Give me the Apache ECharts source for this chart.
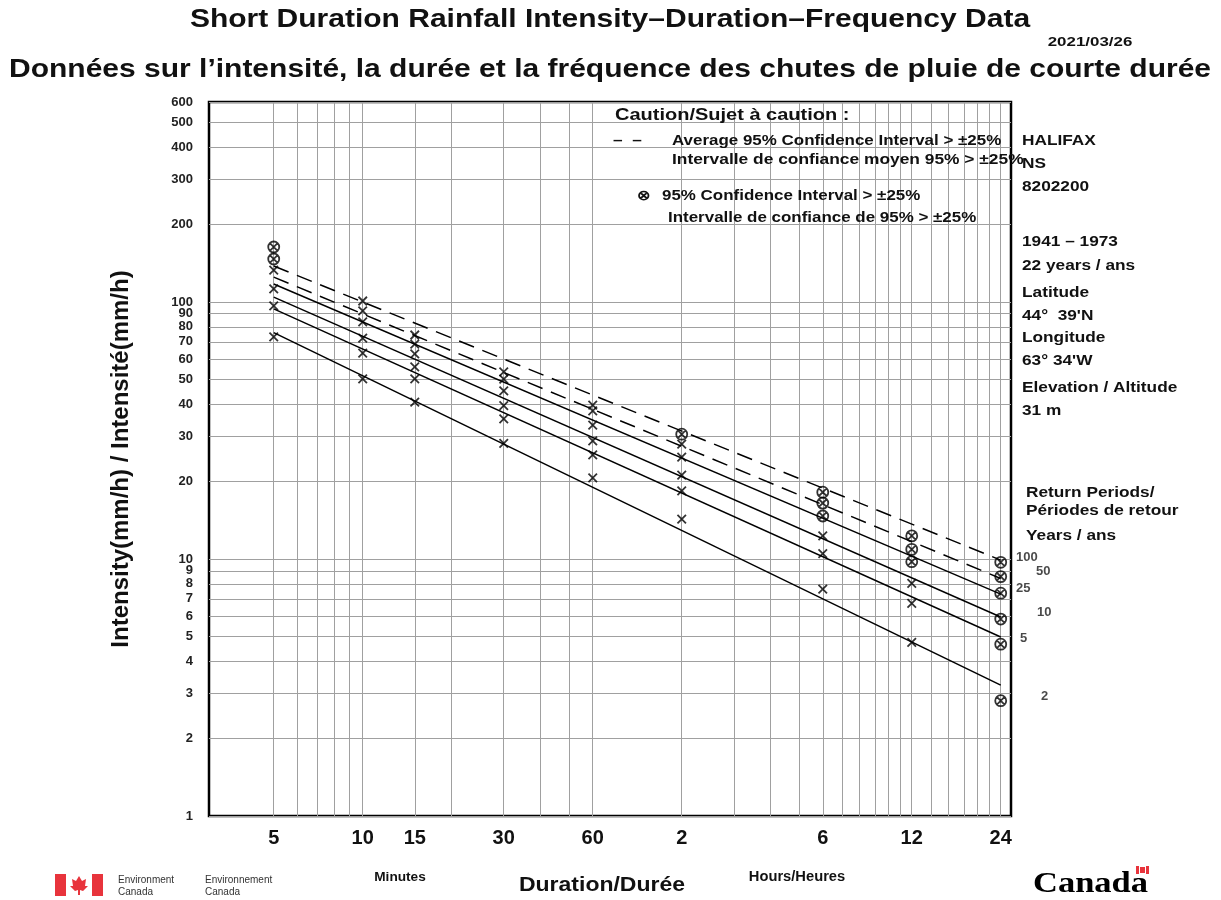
<!DOCTYPE html>
<html lang="en">
<head>
<meta charset="UTF-8">
<title>IDF Halifax</title>
<script src="https://cdn.jsdelivr.net/npm/echarts@6.0.0/dist/echarts.min.js"></script>
<style>
  html, body { margin: 0; padding: 0; background: #fff; }
  #chart { width: 1221px; height: 900px; }
</style>
</head>
<body>
<div id="chart"></div>
<script>
// durations in minutes, and how they are printed under the axis
var durations = [5, 10, 15, 30, 60, 120, 360, 720, 1440]
var durationLabels = ['5', '10', '15', '30', '60', '2', '6', '12', '24']
var returnPeriods = ['100', '50', '25', '10', '5', '2']

// observed intensities (mm/h) per return period, same order as durations
var obs100 = [163.7, 100.9, 74.4, 53.5, 39.7, 30.6, 18.2, 12.3, 9.71]
var obs50 = [147.0, 92.3, 68.6, 50.1, 37.7, 28.0, 16.5, 10.9, 8.54]
var obs25 = [133.0, 83.6, 62.8, 45.1, 33.2, 24.9, 14.7, 9.76, 7.36]
var obs10 = [112.4, 72.4, 55.9, 39.5, 28.8, 21.2, 12.3, 8.04, 5.84]
var obs5 = [96.5, 63.3, 50.2, 35.1, 25.4, 18.4, 10.5, 6.72, 4.66]
var obs2 = [73.1, 50.2, 40.8, 28.2, 20.7, 14.3, 7.64, 4.74, 2.81]

// 1 = 95% confidence interval > 25% (circled cross)
var ci100 = [1, 0, 0, 0, 0, 1, 1, 1, 1]
var ci50 = [1, 0, 0, 0, 0, 0, 1, 1, 1]
var ci25 = [0, 0, 0, 0, 0, 0, 1, 1, 1]
var ci10 = [0, 0, 0, 0, 0, 0, 0, 0, 1]
var ci5 = [0, 0, 0, 0, 0, 0, 0, 0, 1]
var ci2 = [0, 0, 0, 0, 0, 0, 0, 0, 1]

// fitted lines: intensity at 5 min and at 24 h
var fitStart = [138, 125, 117.5, 104.5, 94, 76]
var fitEnd = [9.9, 8.4, 7.3, 5.95, 4.97, 3.23]

// grid lines and y tick labels
var xGrid = [5, 6, 7, 8, 9, 10, 15, 20, 30, 40, 50, 60, 120, 180, 240, 300, 360, 420, 480, 540, 600, 660, 720, 840, 960, 1080, 1200, 1320, 1440]
var yGrid = [1, 2, 3, 4, 5, 6, 7, 8, 9, 10, 20, 30, 40, 50, 60, 70, 80, 90, 100, 200, 300, 400, 500, 600]

var obs = [obs100, obs50, obs25, obs10, obs5, obs2]
var ci = [ci100, ci50, ci25, ci10, ci5, ci2]
// label offsets of the return period names next to the 24 h points
var rpOffset = [[4, -5], [24, -5], [4, -5], [25, -7], [8, -6], [29, -4]]

var crossPath = 'path://M0,0L10,10M10,0L0,10'
var circCrossPath = 'path://M20,10A10,10,0,1,1,0,10A10,10,0,1,1,20,10ZM3,3L17,17M17,3L3,17'
var FONT = 'Liberation Sans, Arial, sans-serif'

var mCharts = echarts.init(document.getElementById('chart'))

var series = []
returnPeriods.forEach(function (rp, i) {
  series.push({
    type: 'line',
    name: 'fit' + rp,
    data: [[durations[0], fitStart[i]], [durations[durations.length - 1], fitEnd[i]]],
    symbol: 'none',
    silent: true,
    z: 3,
    lineStyle: { color: '#000', width: 1.5, type: i < 2 ? [16, 9] : 'solid' }
  })
  var pts = durations.map(function (d, j) {
    var item = {
      value: [d, obs[i][j]],
      symbol: ci[i][j] ? circCrossPath : crossPath,
      symbolSize: ci[i][j] ? 11 : 8.5
    }
    if (j === durations.length - 1) {
      item.label = {
        show: true, formatter: rp, position: 'right',
        offset: rpOffset[i], fontSize: 13, fontWeight: 'bold', fontFamily: FONT, color: '#1a1a1a'
      }
    }
    return item
  })
  series.push({
    type: 'scatter',
    name: 'obs' + rp,
    data: pts,
    z: 4,
    itemStyle: { color: 'rgba(0,0,0,0)', borderColor: '#000', borderWidth: 1.8 }
  })
})

function txt(x, y, text, size, opts) {
  opts = opts || {}
  return {
    type: 'text', x: x, y: y, scaleX: opts.sx || 1.15, silent: true, z: 10,
    style: {
      text: text, fill: opts.color || '#111',
      font: (opts.weight || 'bold') + ' ' + size + 'px ' + FONT,
      textAlign: opts.align || 'left', textVerticalAlign: 'middle'
    }
  }
}

var graphics = [
  txt(610, 20, 'Short Duration Rainfall Intensity\u2013Duration\u2013Frequency Data', 25, { align: 'center', sx: 1.2 }),
  txt(1090, 42, '2021/03/26', 13, { align: 'center', sx: 1.3 }),
  txt(610, 70, 'Donn\u00e9es sur l\u2019intensit\u00e9, la dur\u00e9e et la fr\u00e9quence des chutes de pluie de courte dur\u00e9e', 25, { align: 'center', sx: 1.2 }),

  txt(615, 116, 'Caution/Sujet \u00e0 caution :', 16, { sx: 1.25 }),
  txt(613, 141, '\u2013  \u2013', 15),
  txt(672, 141, 'Average 95% Confidence Interval > \u00b125%', 14, { sx: 1.21 }),
  txt(672, 160, 'Intervalle de confiance moyen 95% > \u00b125%', 14, { sx: 1.24 }),
  txt(637, 196, '\u2297', 14),
  txt(662, 196, '95% Confidence Interval > \u00b125%', 14, { sx: 1.21 }),
  txt(668, 218, 'Intervalle de confiance de 95% > \u00b125%', 14, { sx: 1.21 }),

  txt(1022, 141, 'HALIFAX', 15),
  txt(1022, 164, 'NS', 15),
  txt(1022, 187, '8202200', 15),
  txt(1022, 242, '1941 \u2013 1973', 15),
  txt(1022, 266, '22 years / ans', 15),
  txt(1022, 293, 'Latitude', 15),
  txt(1022, 316, '44\u00b0  39\'N', 15),
  txt(1022, 338, 'Longitude', 15),
  txt(1022, 361, '63\u00b0 34\'W', 15),
  txt(1022, 388, 'Elevation / Altitude', 15),
  txt(1022, 411, '31 m', 15),
  txt(1026, 493, 'Return Periods/', 15),
  txt(1026, 511, 'P\u00e9riodes de retour', 15),
  txt(1026, 536, 'Years / ans', 15),

  txt(400, 877, 'Minutes', 13, { align: 'center', sx: 1.05 }),
  txt(797, 877, 'Hours/Heures', 14, { align: 'center', sx: 1.05 }),
  txt(602, 885, 'Duration/Dur\u00e9e', 20, { align: 'center', sx: 1.15 }),

  // Government of Canada signature and wordmark
  { type: 'rect', shape: { x: 55, y: 874, width: 11, height: 22 }, style: { fill: '#e8343c' }, silent: true },
  { type: 'rect', shape: { x: 92, y: 874, width: 11, height: 22 }, style: { fill: '#e8343c' }, silent: true },
  { type: 'polygon', shape: { points: [[79, 876], [82, 881], [86, 879], [85, 886], [88, 886], [83, 891], [80, 890], [80, 895], [78, 895], [78, 890], [75, 891], [70, 886], [73, 886], [72, 879], [76, 881]] }, style: { fill: '#e8343c' }, silent: true },
  txt(118, 880, 'Environment', 10, { weight: 'normal', sx: 1.0, color: '#333' }),
  txt(118, 892, 'Canada', 10, { weight: 'normal', sx: 1.0, color: '#333' }),
  txt(205, 880, 'Environnement', 10, { weight: 'normal', sx: 1.0, color: '#333' }),
  txt(205, 892, 'Canada', 10, { weight: 'normal', sx: 1.0, color: '#333' }),
  {
    type: 'text', x: 1033, y: 884, scaleX: 1.15, silent: true,
    style: { text: 'Canada', fill: '#000', font: 'bold 30px "Liberation Serif", "DejaVu Serif", serif', textAlign: 'left', textVerticalAlign: 'middle' }
  },
  { type: 'rect', shape: { x: 1136, y: 866, width: 3, height: 8 }, style: { fill: '#e8343c' }, silent: true },
  { type: 'rect', shape: { x: 1146, y: 866, width: 3, height: 8 }, style: { fill: '#e8343c' }, silent: true },
  { type: 'rect', shape: { x: 1140, y: 867, width: 5, height: 6 }, style: { fill: '#e8343c' }, silent: true }
]

var option = {
  backgroundColor: '#fff',
  animation: false,
  grid: {
    left: 209, right: 210, top: 102, bottom: 84,
    show: true, borderColor: '#000', borderWidth: 2.5, backgroundColor: 'transparent'
  },
  xAxis: {
    type: 'log', logBase: 10, min: 3.02, max: 1560,
    axisLine: { show: false },
    axisTick: { show: false, customValues: xGrid },
    splitLine: { show: true, lineStyle: { color: '#a0a0a0', width: 1 } },
    axisLabel: {
      customValues: durations,
      margin: 12,
      fontSize: 20, fontWeight: 'bold', fontFamily: FONT, color: '#111',
      formatter: function (v) {
        var k = durations.indexOf(Math.round(v))
        return k >= 0 ? durationLabels[k] : ''
      }
    }
  },
  yAxis: {
    type: 'log', logBase: 10, min: 1, max: 600,
    name: 'Intensity(mm/h) / Intensit\u00e9(mm/h)',
    nameLocation: 'middle', nameRotate: 90, nameGap: 76,
    nameTextStyle: { fontSize: 24, fontWeight: 'bold', fontFamily: FONT, color: '#111' },
    axisLine: { show: false },
    axisTick: { show: false, customValues: yGrid },
    splitLine: { show: true, lineStyle: { color: '#a0a0a0', width: 1 } },
    axisLabel: {
      customValues: yGrid,
      margin: 16,
      fontSize: 13, fontWeight: 'bold', fontFamily: FONT, color: '#222',
      formatter: function (v) { return String(Math.round(v)) }
    }
  },
  graphic: graphics,
  series: series
}
mCharts.setOption(option)
</script>
</body>
</html>
